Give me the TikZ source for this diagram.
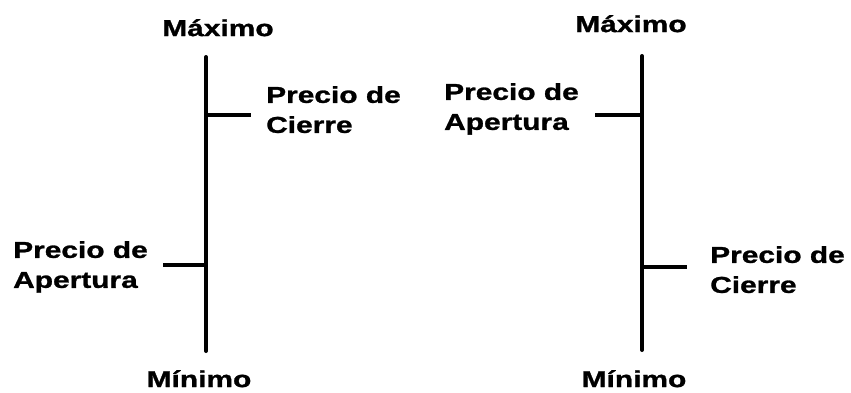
\documentclass[tikz,border=0pt]{standalone}
\usepackage{fontspec}
\setmainfont[FakeStretch=1.3, BoldFeatures={FakeBold=1.2}]{Liberation Sans}
\usetikzlibrary{positioning}

\begin{document}
\begin{tikzpicture}[
      x=1pt, y=-1pt,
      bar/.style={line width=4pt, line cap=round},
      tick/.style={line width=4pt},
      lbl/.style={inner sep=0pt, align=left, font=\bfseries\fontsize{23}{30}\selectfont},
    ]
    \useasboundingbox (0,0) rectangle (851,392);
    % left bar
    \coordinate (hiL)  at (206,57);
    \coordinate (loL)  at (206,351);
    \coordinate (clL)  at (206,115);
    \coordinate (clLe) at (251,115);
    \coordinate (opL)  at (206,265);
    \coordinate (opLe) at (163,265);
    \draw[bar]  (hiL) -- (loL);
    \draw[tick] (clL) -- (clLe);
    \draw[tick] (opL) -- (opLe);
    \node[lbl, anchor=north]      (maxL) at (218,19)  {Máximo};
    \node[lbl, anchor=north]      (minL) at (199,370) {Mínimo};
    \node[lbl, anchor=north west] (cieL) at (266,86)  {Precio de\\Cierre};
    \node[lbl, anchor=north west] (apeL) at (13,241)  {Precio de\\Apertura};
    % right bar
    \coordinate (hiR)  at (642,56);
    \coordinate (loR)  at (642,350);
    \coordinate (opR)  at (642,115);
    \coordinate (opRe) at (595,115);
    \coordinate (clR)  at (642,267);
    \coordinate (clRe) at (687,267);
    \draw[bar]  (hiR) -- (loR);
    \draw[tick] (opR) -- (opRe);
    \draw[tick] (clR) -- (clRe);
    \node[lbl, anchor=north]      (maxR) at (631,15)  {Máximo};
    \node[lbl, anchor=north]      (minR) at (634,370) {Mínimo};
    \node[lbl, anchor=north west] (apeR) at (444,83)  {Precio de\\Apertura};
    \node[lbl, anchor=north west] (cieR) at (710,246) {Precio de\\Cierre};
  \end{tikzpicture}
\end{document}
